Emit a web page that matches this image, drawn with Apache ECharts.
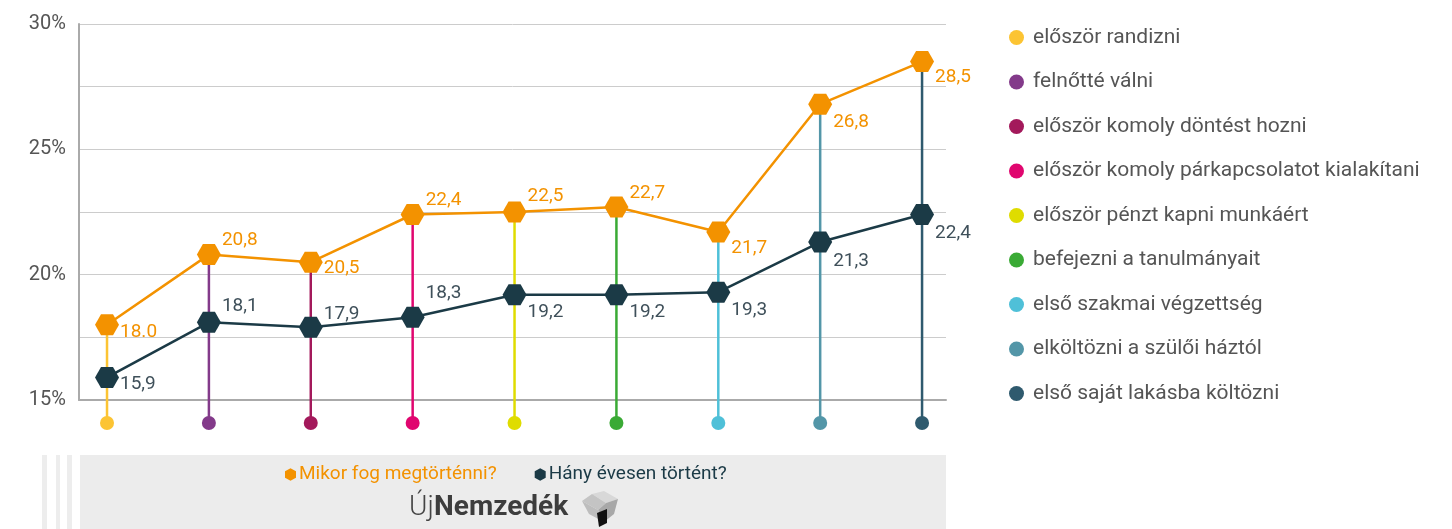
<!DOCTYPE html>
<html>
<head>
<meta charset="utf-8">
<style>
  html, body { margin: 0; padding: 0; background: #fff; }
  #main { width: 1452px; height: 529px; }
</style>
<script src="https://cdn.jsdelivr.net/npm/echarts@6/dist/echarts.min.js"></script>
</head>
<body>
<div id="main"></div>
<script>
  // data
  var categories = [
    'először randizni',
    'felnőtté válni',
    'először komoly döntést hozni',
    'először komoly párkapcsolatot kialakítani',
    'először pénzt kapni munkáért',
    'befejezni a tanulmányait',
    'első szakmai végzettség',
    'elköltözni a szülői háztól',
    'első saját lakásba költözni'
  ]
  var expected = [18.0, 20.8, 20.5, 22.4, 22.5, 22.7, 21.7, 26.8, 28.5]
  var actual = [15.9, 18.1, 17.9, 18.3, 19.2, 19.2, 19.3, 21.3, 22.4]
  var expectedLabels = ['18.0', '20,8', '20,5', '22,4', '22,5', '22,7', '21,7', '26,8', '28,5']
  var actualLabels = ['15,9', '18,1', '17,9', '18,3', '19,2', '19,2', '19,3', '21,3', '22,4']
  var yTicks = [15, 20, 25, 30]
  var seriesNames = ['Mikor fog megtörténni?', 'Hány évesen történt?']

  // styles
  var stemColors = ['#fcc433', '#833a8a', '#a3195b', '#e0066f', '#dfdc00', '#3aaa35', '#4fc0d8', '#5396a8', '#2f5a6e']
  var orange = '#f39200'
  var dark = '#1b3a46'
  var font = 'Roboto'
  var hexFlat = 'path://M0,8.66 L5,0 L15,0 L20,8.66 L15,17.32 L5,17.32 Z'
  var hexTall = 'path://M8.66,0 L17.32,5 L17.32,15 L8.66,20 L0,15 L0,5 Z'
  var expectedDy = [7, -14, 6, -14, -16, -14, 16, 18, 16]
  var actualDy = [7, -16, -13, -24, 18, 18, 18, 19, 19]
  var yMin = 15

  var chart = echarts.init(document.getElementById('main'))

  var stemSeries = categories.map(function (name, i) {
    return {
      name: name,
      type: 'custom',
      z: 1,
      clip: false,
      itemStyle: { color: stemColors[i] },
      data: [[i, expected[i]]],
      renderItem: function (params, api) {
        var top = api.coord([api.value(0), api.value(1)])
        var base = api.coord([api.value(0), yMin])
        var by = base[1] + 23
        var color = stemColors[i]
        return {
          type: 'group',
          children: [
            { type: 'line', shape: { x1: top[0], y1: top[1], x2: top[0], y2: by }, style: { stroke: color, lineWidth: 2.5 } },
            { type: 'circle', shape: { cx: top[0], cy: by, r: 7 }, style: { fill: color } }
          ]
        }
      }
    }
  })

  function lineSeries(name, values, labels, dys, color, textColor) {
    return {
      name: name,
      type: 'line',
      z: 3,
      clip: false,
      symbol: hexFlat,
      symbolSize: [24, 21],
      lineStyle: { color: color, width: 2.5 },
      itemStyle: { color: color },
      data: values.map(function (v, i) {
        return {
          value: [i, v],
          label: {
            show: true,
            position: 'right',
            distance: 1,
            offset: [0, dys[i]],
            formatter: labels[i],
            color: textColor,
            fontSize: 19,
            fontFamily: font
          }
        }
      })
    }
  }

  chart.setOption({
    animation: false,
    grid: { left: 79, right: 506, top: 24, bottom: 129 },
    xAxis: {
      type: 'value',
      min: -0.275,
      max: 8.235,
      axisLine: { show: true, onZero: false, lineStyle: { color: '#aaaaaa', width: 2 } },
      axisTick: { show: false },
      axisLabel: { show: false },
      splitLine: { show: false }
    },
    yAxis: {
      type: 'value',
      min: yMin,
      max: 30,
      interval: 2.5,
      axisLine: { show: true, onZero: false, lineStyle: { color: '#aaaaaa', width: 2 } },
      axisTick: { show: false },
      splitLine: { lineStyle: { color: '#cccccc', width: 1 } },
      axisLabel: {
        color: '#555555',
        fontSize: 20,
        fontFamily: font,
        margin: 13,
        formatter: function (v) {
          return yTicks.indexOf(v) >= 0 ? v + '%' : ''
        }
      }
    },
    legend: [
      {
        data: categories,
        orient: 'vertical',
        left: 1004,
        top: 22,
        icon: 'circle',
        itemWidth: 15,
        itemHeight: 15,
        itemGap: 23.5,
        textStyle: { color: '#555555', fontSize: 21, fontFamily: font, padding: [0, 0, 0, 4] }
      },
      {
        data: [
          { name: seriesNames[0], textStyle: { color: orange } },
          { name: seriesNames[1], textStyle: { color: dark } }
        ],
        orient: 'horizontal',
        left: 280,
        top: 460,
        icon: hexTall,
        itemWidth: 11,
        itemHeight: 13,
        itemGap: 38,
        itemStyle: { borderWidth: 0 },
        textStyle: { fontSize: 19, fontFamily: font, padding: [0, 0, 0, -2] }
      }
    ],
    graphic: [
      { type: 'rect', z: -10, shape: { x: 80, y: 455, width: 866, height: 74 }, style: { fill: '#ececec' } },
      { type: 'rect', z: -10, shape: { x: 42, y: 455, width: 5, height: 74 }, style: { fill: '#ededed' } },
      { type: 'rect', z: -10, shape: { x: 56, y: 455, width: 4, height: 74 }, style: { fill: '#ededed' } },
      { type: 'rect', z: -10, shape: { x: 67, y: 455, width: 5, height: 74 }, style: { fill: '#ededed' } },
      { type: 'text', left: 409, top: 494, style: { text: 'Új', fill: '#444444', font: '300 28px Roboto' } },
      { type: 'text', left: 434, top: 494, style: { text: 'Nemzedék', fill: '#3d3d3d', font: 'bold 28px Roboto' } },
      { type: 'polygon', shape: { points: [[592, 494], [604, 491], [618, 499], [606, 503]] }, style: { fill: '#d8d8d8' } },
      { type: 'polygon', shape: { points: [[582, 501], [592, 494], [606, 503], [598, 510]] }, style: { fill: '#c4c4c4' } },
      { type: 'polygon', shape: { points: [[598, 510], [606, 503], [618, 499], [614, 514], [604, 522]] }, style: { fill: '#a8a8a8' } },
      { type: 'polygon', shape: { points: [[582, 501], [598, 510], [604, 522], [589, 514]] }, style: { fill: '#bdbdbd' } },
      { type: 'polygon', shape: { points: [[597, 513], [607, 509], [607, 523], [599, 527]] }, style: { fill: '#111111' } }
    ],
    series: stemSeries.concat([
      lineSeries(seriesNames[0], expected, expectedLabels, expectedDy, orange, orange),
      lineSeries(seriesNames[1], actual, actualLabels, actualDy, dark, '#3f505a')
    ])
  })
</script>
</body>
</html>
